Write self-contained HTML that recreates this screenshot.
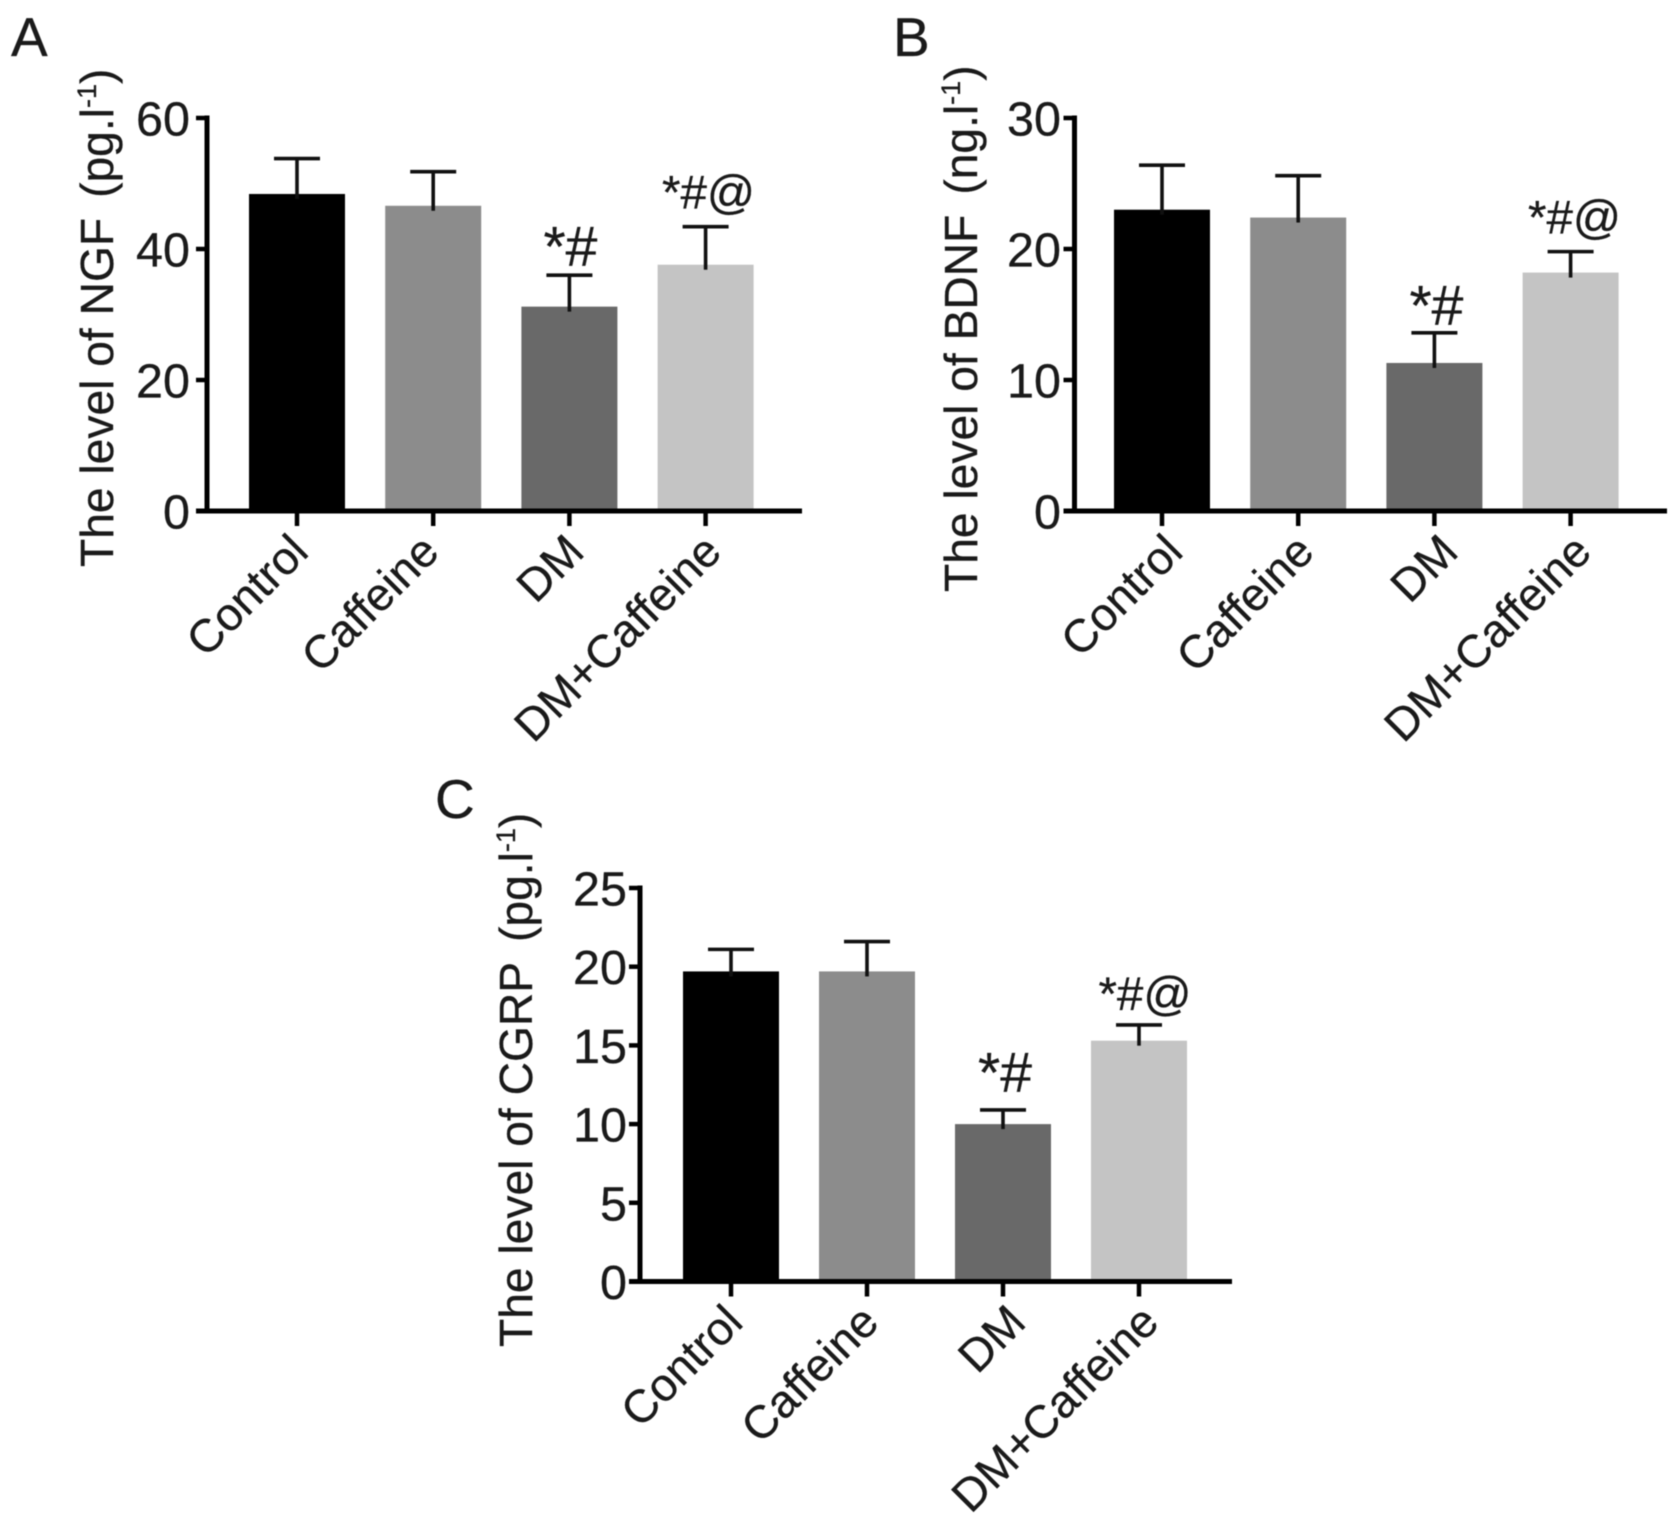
<!DOCTYPE html>
<html lang="en">
<head>
<meta charset="utf-8">
<title>Levels of NGF, BDNF and CGRP</title>
<style>
html,body{margin:0;padding:0;background:#fff;}
#figure{display:block;width:1677px;height:1524px;font-family:"Liberation Sans",Arial,sans-serif;fill:#1a1a1a;filter:blur(0.6px);}
#figure text{stroke:#1a1a1a;stroke-width:0.3px;}
</style>
</head>
<body>
<svg id="figure" xmlns="http://www.w3.org/2000/svg" width="1677" height="1524" viewBox="0 0 1677 1524"></svg>
<script>
const categories = ["Control", "Caffeine", "DM", "DM+Caffeine"];
const significance = ["", "", "*#", "*#@"];
const barColors = ["#000000", "#8c8c8c", "#696969", "#c4c4c4"];

const ngfValues = [48.4, 46.6, 31.2, 37.6];
const ngfUpper = [53.8, 51.8, 36.0, 43.4];
const ngfTicks = [0, 20, 40, 60];

const bdnfValues = [23.0, 22.4, 11.3, 18.2];
const bdnfUpper = [26.4, 25.6, 13.6, 19.8];
const bdnfTicks = [0, 10, 20, 30];

const cgrpValues = [19.7, 19.7, 10.0, 15.3];
const cgrpUpper = [21.1, 21.6, 10.9, 16.3];
const cgrpTicks = [0, 5, 10, 15, 20, 25];

const svg = document.getElementById('figure');
const NS = 'http://www.w3.org/2000/svg';

function make(tag, parent, attrs, text) {
  const el = document.createElementNS(NS, tag);
  for (const k in attrs) el.setAttribute(k, attrs[k]);
  if (text !== undefined) el.textContent = text;
  parent.appendChild(el);
  return el;
}

function drawPanel(p) {
  const g = make('g', svg, {});
  
  

  const maxV = p.ticks[p.ticks.length - 1];
  const y = v => p.y0 - (v / maxV) * (p.y0 - p.yTop);
  const x = i => p.x0 + i * p.step;

  const letter = make('text', g, {x: p.letterX, y: p.letterY, 'font-size': 55}, p.letter);
  
  

  categories.forEach((cat, i) => {
    const bar = make('rect', g, {x: x(i) - 48, y: y(p.values[i]), width: 96, height: p.y0 - y(p.values[i]), fill: barColors[i]});
    
    

    const stem = make('line', g, {x1: x(i), x2: x(i), y1: y(p.upper[i]), y2: y(p.values[i]) + 5, stroke: '#111', 'stroke-width': 3.6});
    
    

    const cap = make('line', g, {x1: x(i) - 23, x2: x(i) + 23, y1: y(p.upper[i]), y2: y(p.upper[i]), stroke: '#111', 'stroke-width': 3.6});
    
    

    if (significance[i]) {
      const isShort = i === 2;
      const mark = make('text', g, {
        x: x(i) + (isShort ? p.shortMarkDx : p.longMarkDx),
        y: y(p.upper[i]) - (isShort ? p.shortMarkGap : p.longMarkGap),
        'font-size': isShort ? 57 : 47.5,
        'text-anchor': 'middle'
      }, significance[i]);
      
      
    }

    const tick = make('line', g, {x1: x(i), x2: x(i), y1: p.y0, y2: p.y0 + 15, stroke: '#000', 'stroke-width': 4.5});
    
    

    const ax = x(i) + p.labelDx[i];
    const ay = p.y0 + 43;
    const label = make('text', g, {x: ax, y: ay, 'font-size': 46, 'text-anchor': 'end', transform: 'rotate(-45 ' + ax + ' ' + ay + ')'}, cat);
    
    
  });

  const yAxis = make('line', g, {x1: p.axisX, x2: p.axisX, y1: p.yTop - 2.5, y2: p.y0 + 2.5, stroke: '#000', 'stroke-width': 5});
  
  

  const xAxis = make('line', g, {x1: p.axisX - 11, x2: p.xEnd, y1: p.y0, y2: p.y0, stroke: '#000', 'stroke-width': 5});
  
  

  p.ticks.forEach(t => {
    const tick = make('line', g, {x1: p.axisX - 11, x2: p.axisX, y1: y(t), y2: y(t), stroke: '#000', 'stroke-width': 4.5});
    
    

    const label = make('text', g, {x: p.axisX - p.tickGap, y: y(t) + 17.5, 'font-size': 48.5, 'text-anchor': 'end'}, String(t));
    
    
  });

  const title = make('text', g, {x: p.titleX, y: p.titleY, 'font-size': 46.2, transform: 'rotate(-90 ' + p.titleX + ' ' + p.titleY + ')'});
  
  
  make('tspan', title, {}, p.title);
  make('tspan', title, {dx: 20}, '(' + p.unit);
  make('tspan', title, {'font-size': 27, dy: -17}, '-1');
  make('tspan', title, {dy: 17}, ')');
}

drawPanel({
  key: 'ngf', letter: 'A', letterX: 11, letterY: 56,
  title: 'The level of NGF', unit: 'pg.l',
  values: ngfValues, upper: ngfUpper, ticks: ngfTicks,
  axisX: 207, xEnd: 802, y0: 511, yTop: 118,
  x0: 297, step: 136.2, labelDx: [13.5, 8, 17, 18],
  tickGap: 17, shortMarkDx: 1, shortMarkGap: 9, longMarkDx: 3, longMarkGap: 18,
  titleX: 113, titleY: 567
});

drawPanel({
  key: 'bdnf', letter: 'B', letterX: 893, letterY: 56,
  title: 'The level of BDNF', unit: 'ng.l',
  values: bdnfValues, upper: bdnfUpper, ticks: bdnfTicks,
  axisX: 1074.5, xEnd: 1667, y0: 511, yTop: 118,
  x0: 1162, step: 136.2, labelDx: [23, 18, 26, 23],
  tickGap: 13.5, shortMarkDx: 2, shortMarkGap: 8, longMarkDx: 4, longMarkGap: 18,
  titleX: 977, titleY: 592
});

drawPanel({
  key: 'cgrp', letter: 'C', letterX: 435, letterY: 818,
  title: 'The level of CGRP', unit: 'pg.l',
  values: cgrpValues, upper: cgrpUpper, ticks: cgrpTicks,
  axisX: 640, xEnd: 1232, y0: 1281.5, yTop: 888,
  x0: 731, step: 136, labelDx: [14, 14, 25, 22],
  tickGap: 13, shortMarkDx: 2, shortMarkGap: 18, longMarkDx: 6, longMarkGap: 15,
  titleX: 532, titleY: 1347
});
</script>
</body>
</html>
